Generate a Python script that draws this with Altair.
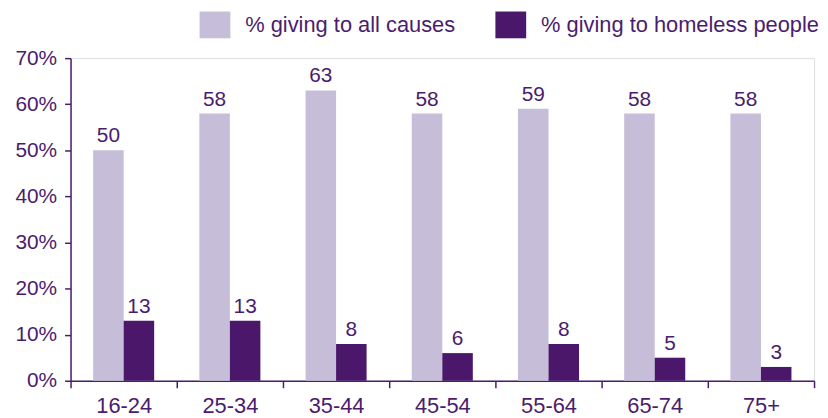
import altair as alt
import pandas as pd

ages = ["16-24", "25-34", "35-44", "45-54", "55-64", "65-74", "75+"]
all_causes = [50, 58, 63, 58, 59, 58, 58]
homeless = [13, 13, 8, 6, 8, 5, 3]
series = ["% giving to all causes", "% giving to homeless people"]
colors = ["#c6bdd8", "#4a176b"]
y_ticks = [0, 0.1, 0.2, 0.3, 0.4, 0.5, 0.6, 0.7]

rows = []
for i, a in enumerate(ages):
    rows.append({"age": a, "series": series[0], "value": all_causes[i]})
    rows.append({"age": a, "series": series[1], "value": homeless[i]})
df = pd.DataFrame(rows)
df["frac"] = df["value"] / 100

W, H = 749, 325
purple = "#4b1c6e"
font = "Liberation Sans"
fs = 21

x = alt.X(
    "age:N", sort=ages,
    scale=alt.Scale(paddingInner=0, paddingOuter=0),
    axis=alt.Axis(title=None, labelAngle=0, tickBand="extent", tickSize=7,
                  labelPadding=8, labelFontSize=22, labelColor=purple,
                  labelFont=font, domainColor=purple, tickColor=purple,
                  domainWidth=1.5, tickWidth=1.5),
)
xo = alt.XOffset("series:N", sort=series,
                 scale=alt.Scale(paddingInner=0, paddingOuter=0.74))
y = alt.Y(
    "frac:Q",
    scale=alt.Scale(domain=[0, 0.7], nice=False),
    axis=alt.Axis(title=None, format="%", values=y_ticks, grid=False,
                  tickSize=6, labelPadding=8, labelFontSize=fs,
                  labelColor=purple, labelFont=font, domainColor=purple,
                  tickColor=purple, domainWidth=1.5, tickWidth=1.5),
)
color = alt.Color(
    "series:N", sort=series,
    scale=alt.Scale(domain=series, range=colors),
    legend=alt.Legend(
        title=None, orient="none", legendX=130, legendY=-49,
        direction="horizontal", symbolType="M-1,-0.87H1V0.87H-1Z",
        symbolSize=961, symbolStrokeWidth=0, symbolOpacity=1,
        labelFontSize=22, labelColor=purple, labelFont=font,
        labelOffset=15, labelLimit=0, columnPadding=40, padding=0,
    ),
)

base = alt.Chart(df)
bars = base.mark_bar().encode(x=x, xOffset=xo, y=y, color=color)
labels = base.mark_text(baseline="alphabetic", dy=-8, fontSize=fs,
                        font=font, color=purple).encode(
    x=x, xOffset=xo, y=y, text="value:Q")

chart = (bars + labels).properties(
    width=W, height=H,
    padding={"left": 6, "top": 0, "right": 0, "bottom": 0},
).configure_view(stroke=None).configure(background="white")

chart.save("out.html", embed_options={"renderer": "svg", "actions": False})
